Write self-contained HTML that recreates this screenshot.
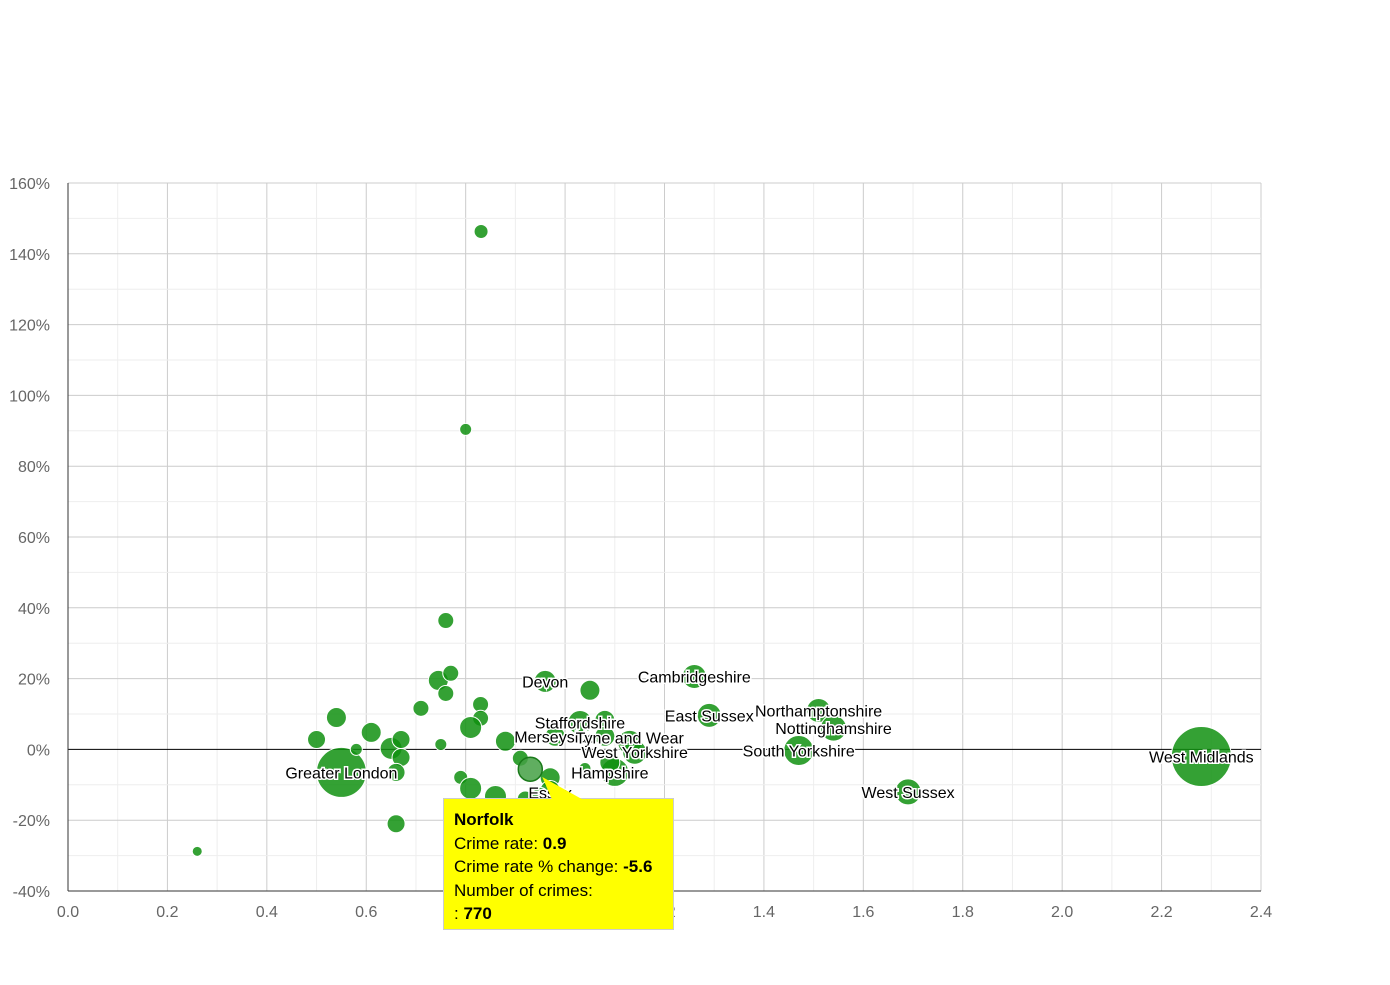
<!DOCTYPE html>
<html><head><meta charset="utf-8"><style>
body{margin:0;background:#fff;font-family:"Liberation Sans",sans-serif}
svg text{font-family:"Liberation Sans",sans-serif}
</style></head><body>
<svg id="chart" width="1390" height="980" xmlns="http://www.w3.org/2000/svg">
<g id="grid"></g>
<g id="bubbles"></g>
<g id="labels"></g>
<g id="axes"></g>
</svg>
<div style="position:absolute;left:443px;top:798px;width:231px;height:132px;background:#ffff00;border:1px solid #ccc;box-sizing:border-box;padding:9px 10px;font-size:17px;line-height:23.5px;color:#000">
<div style="position:absolute;left:100px;top:-22px;width:0;height:0;border-left:6px solid transparent;border-right:24px solid transparent;border-bottom:22px solid #ffff00;transform:skewX(35deg)"></div>
<b>Norfolk</b><br>
<span>Crime rate: <b>0.9</b></span><br>
<span>Crime rate % change: <b>-5.6</b></span><br>
<span>Number of crimes:<br>: <b>770</b></span>
</div>
<script>
const xTicks=[0,0.2,0.4,0.6,0.8,1.0,1.2,1.4,1.6,1.8,2.0,2.2,2.4];
const yTicks=[-40,-20,0,20,40,60,80,100,120,140,160];
const rates=[0.831,0.80,0.76,0.26,0.66,0.55,2.28,1.69,1.47,1.51,1.54,1.29,1.26,0.96,1.05,0.50,0.54,0.61,0.58,0.65,0.67,0.67,0.66,0.71,0.745,0.77,0.76,0.75,0.83,0.83,0.81,0.79,0.81,0.86,0.88,0.91,0.97,0.97,0.92,0.95,1.03,0.98,1.08,1.08,1.13,1.14,1.10,1.09,1.04,0.93];
const changes=[146.3,90.4,36.4,-28.8,-21,-6.5,-2,-12,-0.3,11,6,9.6,20.6,19.2,16.7,2.8,9,4.8,0,0.3,2.8,-2.3,-6.5,11.6,19.5,21.5,15.8,1.4,12.7,8.8,6.2,-7.9,-11,-13.3,2.3,-2.5,-8,-11.6,-14,-13,7.6,3.7,8.2,3.7,2,-0.8,-6.5,-3.7,-5.4,-5.6];
const sizes=[7,6,8,5,9,25,30,13,15,12,13,12,12,11,10,9,10,10,6,11,9,9,9,8,10,8,8,6,8,8,11,7,11,11,10,8,10,10,8,8,12,10,10,10,12,12,14,10,6,12];
const names=["","","","","","Greater London","West Midlands","West Sussex","South Yorkshire","Northamptonshire","Nottinghamshire","East Sussex","Cambridgeshire","Devon","","","","","","","","","","","","","","","","","","","","","","","","Essex","","","Staffordshire","Merseyside","","","Tyne and Wear","West Yorkshire","","Hampshire","",""];
const labelDy=[0,0,0,0,0,0,0,0,0,0,0,0,0,0,0,0,0,0,0,0,0,0,0,0,0,0,0,0,0,0,0,0,0,0,0,0,0,2,0,0,0,0,0,0,-5,0,0,10,0,0];
const NS="http://www.w3.org/2000/svg";
const X0=68,X1=1261,Y0=891,Y1=183;
const xs=v=>X0+(v-0)/2.4*(X1-X0);
const ys=v=>Y0-(v+40)/200*(Y0-Y1);
function mk(tag,attrs,parent){const e=document.createElementNS(NS,tag);for(const k in attrs)e.setAttribute(k,attrs[k]);parent.appendChild(e);return e;}
const grid=document.getElementById('grid'),axes=document.getElementById('axes'),bub=document.getElementById('bubbles'),lab=document.getElementById('labels');
for(let i=0;i<xTicks.length;i++){
 const x=xs(xTicks[i]);
 const g=mk('line',{x1:x,x2:x,y1:Y1,y2:Y0,stroke:'#ccc','stroke-width':1},grid);
 
 
 if(i<xTicks.length-1){const m=mk('line',{x1:xs(xTicks[i]+0.1),x2:xs(xTicks[i]+0.1),y1:Y1,y2:Y0,stroke:'#eee','stroke-width':1},grid);
 
 }
 const t=mk('text',{x:x,y:917,'text-anchor':'middle','font-size':16,fill:'#666'},axes);
 
 
 t.textContent=xTicks[i].toFixed(1);
}
for(let i=0;i<yTicks.length;i++){
 const y=ys(yTicks[i]);
 const g=mk('line',{x1:X0,x2:X1,y1:y,y2:y,stroke:yTicks[i]===0?'#000':'#ccc','stroke-width':1},grid);
 
 
 if(i<yTicks.length-1){const m=mk('line',{x1:X0,x2:X1,y1:ys(yTicks[i]+10),y2:ys(yTicks[i]+10),stroke:'#eee','stroke-width':1},grid);
 
 }
 const t=mk('text',{x:50,y:y+6,'text-anchor':'end','font-size':16,fill:'#666'},axes);
 
 
 t.textContent=yTicks[i]+'%';
}
const ax=mk('line',{x1:X0,x2:X0,y1:Y1,y2:Y0,stroke:'#333','stroke-width':1},axes);


const bx=mk('line',{x1:X0,x2:X1,y1:Y0,y2:Y0,stroke:'#333','stroke-width':1},axes);


for(let i=0;i<rates.length;i++){
 const hl=i===rates.length-1;
 const c=mk('circle',{cx:xs(rates[i]),cy:ys(changes[i]),r:sizes[i],fill:hl?'#44a044':'#109010','fill-opacity':0.85,stroke:hl?'#1a7a1a':'#fff','stroke-width':hl?1.5:1},bub);
 
 
 if(names[i]){
  const t=mk('text',{x:xs(rates[i]),y:ys(changes[i])+6+labelDy[i],'text-anchor':'middle','font-size':16,fill:'#000',stroke:'#fff','stroke-width':3,'paint-order':'stroke'},lab);
  
  
  t.textContent=names[i];
 }
}
</script>
</body></html>
